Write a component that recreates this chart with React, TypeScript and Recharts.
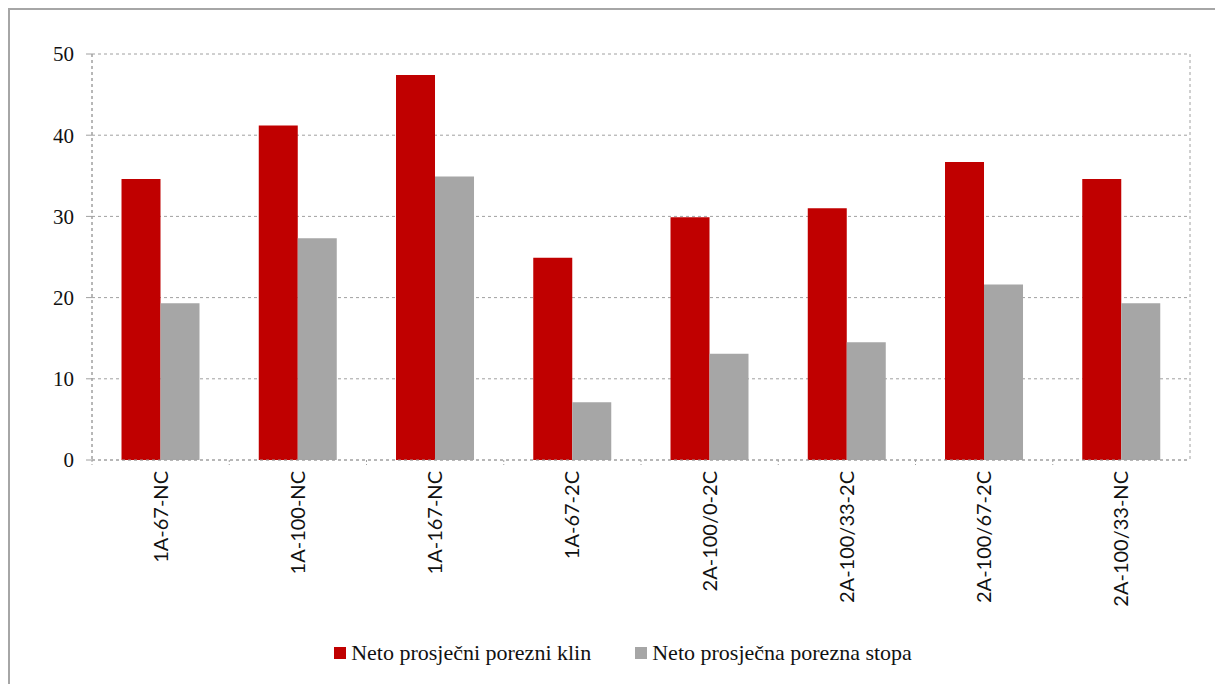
import React from "react";
import { BarChart, Bar, XAxis, YAxis, CartesianGrid, Legend } from "recharts";

const categories = [
  "1A-67-NC",
  "1A-100-NC",
  "1A-167-NC",
  "1A-67-2C",
  "2A-100/0-2C",
  "2A-100/33-2C",
  "2A-100/67-2C",
  "2A-100/33-NC",
];
const klin = [34.6, 41.2, 47.4, 24.9, 29.9, 31.0, 36.7, 34.6];
const stopa = [19.3, 27.3, 34.9, 7.1, 13.1, 14.5, 21.6, 19.3];
const yTicks = [0, 10, 20, 30, 40, 50];

const RED = "#C00000";
const GRAY = "#A6A6A6";
const GRID = "#A0A0A0";

const data = categories.map((name, i) => ({ name, klin: klin[i], stopa: stopa[i] }));

const XTick = (props: any) => {
  const { x, y, payload, width } = props;
  const band = width / categories.length;
  return (
    <g>
      <line x1={x - band / 2} x2={x - band / 2} y1={y - 8} y2={y - 3} stroke={GRID} strokeDasharray="2 2" />
      <text
        x={0}
        y={0}
        transform={`translate(${x + 7}, ${y + 3}) rotate(-90)`}
        textAnchor="end"
        fontFamily="Lato, 'Open Sans', sans-serif"
        fontSize={20}
        fill="#111"
      >
        {payload.value}
      </text>
    </g>
  );
};

const LegendContent = () => (
  <div
    style={{
      display: "flex",
      justifyContent: "center",
      gap: 44,
      fontFamily: "'Liberation Serif', serif",
      fontSize: 22,
      color: "#111",
    }}
  >
    {[
      { c: RED, t: "Neto prosječni porezni klin" },
      { c: GRAY, t: "Neto prosječna porezna stopa" },
    ].map((it) => (
      <span key={it.t} style={{ display: "flex", alignItems: "center" }}>
        <span style={{ display: "inline-block", width: 12, height: 12, background: it.c, marginRight: 5 }} />
        {it.t}
      </span>
    ))}
  </div>
);

export default function App() {
  return (
    <div
      style={{
        width: 1260,
        height: 700,
        borderTop: "2px solid #A6A6A6",
        borderLeft: "2px solid #A6A6A6",
        background: "#fff",
        boxSizing: "border-box",
      }}
    >
      <style>{`body{overflow:hidden}`}</style>
      <BarChart
        width={1256}
        height={696}
        data={data}
        margin={{ top: 44, right: 76, bottom: 0, left: 0 }}
        barCategoryGap="21.5%"
        barGap={0}
      >
        <CartesianGrid
          stroke={GRID}
          strokeDasharray="3 3"
          verticalCoordinatesGenerator={({ offset }: any) => [offset.left, offset.left + offset.width]}
        />
        <XAxis
          dataKey="name"
          interval={0}
          height={220}
          axisLine={{ stroke: GRID, strokeDasharray: "3 3" }}
          tickLine={false}
          tick={<XTick />}
        />
        <YAxis
          domain={[0, 50]}
          ticks={yTicks}
          width={82}
          axisLine={{ stroke: GRID, strokeDasharray: "3 3" }}
          tickLine={{ stroke: GRID }}
          tickSize={6}
          tickMargin={12}
          tick={{ fontFamily: "'Liberation Serif', serif", fontSize: 21, fill: "#111" }}
        />
        <Legend content={<LegendContent />} wrapperStyle={{ top: 630, left: 0, width: 1226 }} />
        <Bar dataKey="klin" fill={RED} isAnimationActive={false} />
        <Bar dataKey="stopa" fill={GRAY} isAnimationActive={false} />
      </BarChart>
    </div>
  );
}
